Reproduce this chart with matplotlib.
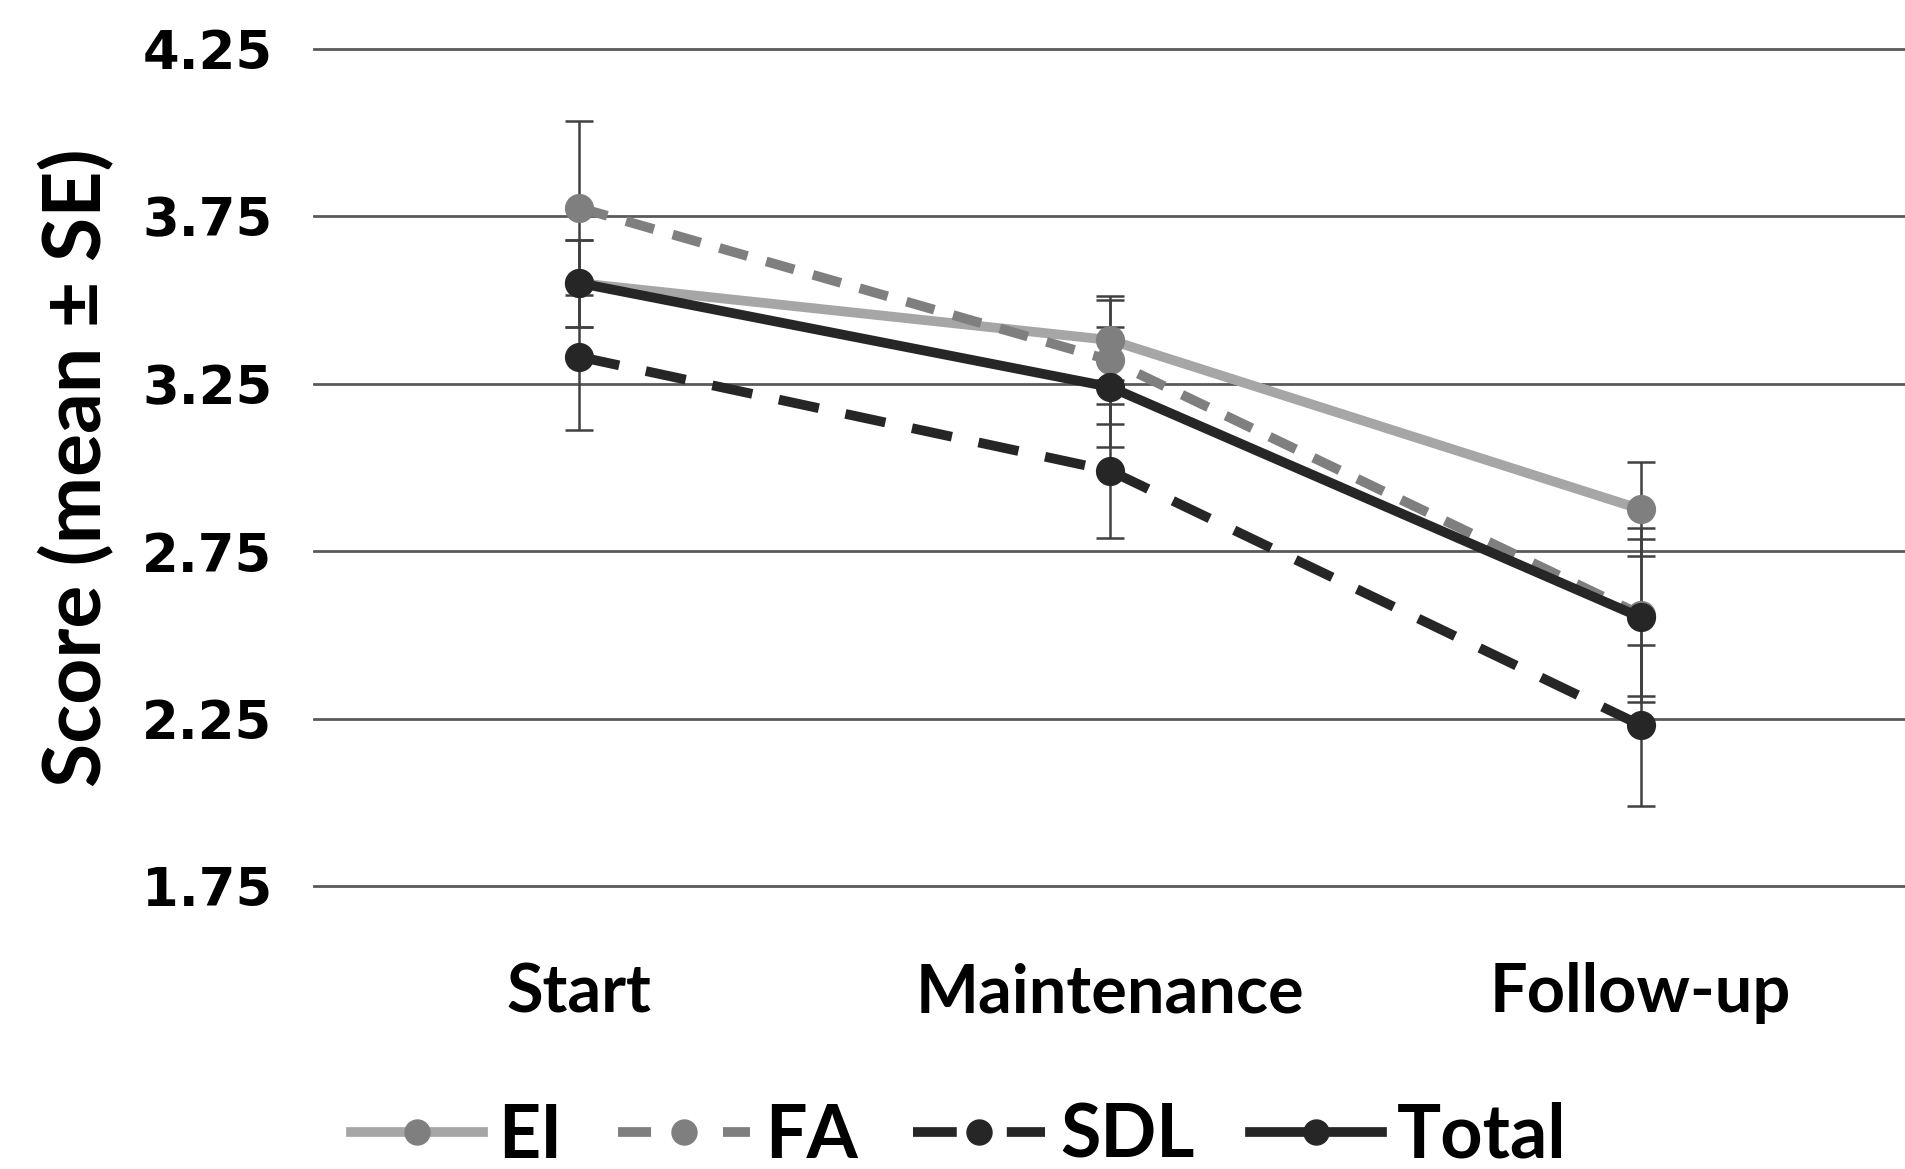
import matplotlib.pyplot as plt
from matplotlib.lines import Line2D
import numpy as np

# chart data
phases = ["Start", "Maintenance", "Follow-up"]
series_names = ["EI", "FA", "SDL", "Total"]
ei_mean = [3.55, 3.38, 2.875]
ei_se = [0.13, 0.12, 0.14]
fa_mean = [3.775, 3.32, 2.56]
fa_se = [0.26, 0.19, 0.26]
sdl_mean = [3.33, 2.99, 2.23]
sdl_se = [0.22, 0.20, 0.24]
total_mean = [3.55, 3.24, 2.552]
total_se = [0.13, 0.18, 0.235]
y_ticks = [1.75, 2.25, 2.75, 3.25, 3.75, 4.25]

styles = {
    "EI": dict(color="#a6a6a6", mcolor="#7f7f7f", ls="-", leg_ls="-"),
    "FA": dict(color="#7f7f7f", mcolor="#7f7f7f", ls=(0, (3.0, 2.0)), leg_ls=(0, (3.4, 7.4))),
    "SDL": dict(color="#262626", mcolor="#262626", ls=(0, (4.2, 2.8)), leg_ls=(0, (4.5, 5.15))),
    "Total": dict(color="#262626", mcolor="#262626", ls="-", leg_ls="-"),
}
data = {
    "EI": (ei_mean, ei_se),
    "FA": (fa_mean, fa_se),
    "SDL": (sdl_mean, sdl_se),
    "Total": (total_mean, total_se),
}

fig = plt.figure(figsize=(19.06, 11.69), dpi=100)
ax = fig.add_axes([0.1647, 0.2421, 0.8353, 0.7163])

x = np.arange(len(phases))
handles = []
for i, name in enumerate(series_names):
    mean, se = data[name]
    st = styles[name]
    ax.errorbar(x, mean, yerr=se, fmt="none", ecolor="#404040", elinewidth=1.8,
                capsize=10, capthick=1.8, zorder=3)
    ax.plot(x, mean, linestyle=st["ls"], color=st["color"], linewidth=7,
            marker="o", markersize=20, markerfacecolor=st["mcolor"],
            markeredgecolor=st["mcolor"], zorder=4 + i)
    # legend proxy with a dash pattern that fits the short handle
    handles.append(Line2D([], [], linestyle=st["leg_ls"], color=st["color"], linewidth=7,
                          marker="o", markersize=18, markerfacecolor=st["mcolor"],
                          markeredgecolor=st["mcolor"]))

ax.set_xlim(-0.5, 2.5)
ax.set_ylim(1.75, 4.25)
ax.set_yticks(y_ticks)
ax.set_yticklabels([f"{v:.2f}" for v in y_ticks], fontsize=38, fontweight="bold",
                   family="DejaVu Sans")
ax.set_xticks(x)
ax.set_xticklabels(phases, fontsize=48, fontweight="bold", family="Lato")
ax.tick_params(axis="y", length=0, pad=30)
ax.tick_params(axis="x", length=0, pad=55)
ax.grid(axis="y", color="#5a5a5a", linewidth=2.0, zorder=0)
ax.set_axisbelow(True)
for gl in ax.get_ygridlines():
    gl.set_clip_on(False)
for s in ax.spines.values():
    s.set_visible(False)

ax.set_ylabel("Score (mean ± SE)", fontsize=58, fontweight="bold", family="Lato")
ax.yaxis.set_label_coords(-0.125, 0.5)

fig.legend(handles=handles, labels=series_names, loc="center", bbox_to_anchor=(0.503, 0.028),
           ncol=4, frameon=False, prop=dict(family="Lato", weight="bold", size=53),
           handlelength=1.8, handletextpad=0.2, columnspacing=0.75, numpoints=1)

plt.savefig("out.png", dpi=100)
plt.close()
